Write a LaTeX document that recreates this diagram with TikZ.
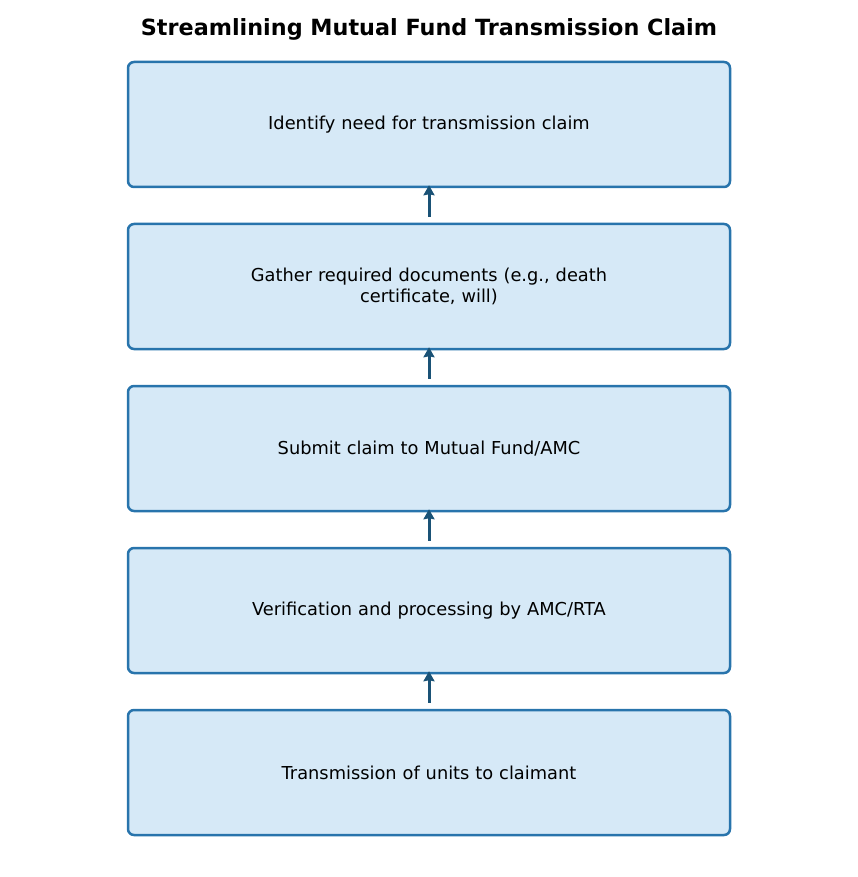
\documentclass[tikz,border=0pt]{standalone}
\usepackage{fontspec}
\setmainfont{DejaVu Sans}
\usetikzlibrary{arrows.meta}
\definecolor{boxfill}{HTML}{D6E9F7}
\definecolor{boxedge}{HTML}{2874AC}
\definecolor{arrowc}{HTML}{1A5276}
\tikzset{
  stepbox/.style={draw=boxedge, fill=boxfill, line width=2.5pt, rounded corners=6pt,
    minimum width=602pt, minimum height=125pt, align=center, inner sep=0pt,
    font=\fontsize{17.8}{21}\selectfont, text width=560pt},
  flow/.style={draw=arrowc, line width=3pt, -{Stealth[length=10pt,width=11pt,inset=1pt]}}
}
\begin{document}
\begin{tikzpicture}[x=1pt,y=-1pt]
\useasboundingbox (0,0) rectangle (858,877);
\node[font=\bfseries\fontsize{22.3}{26}\selectfont] (title) at (429,29.5) {Streamlining Mutual Fund Transmission Claim};
\node[stepbox] (b1) at (429,124.5) {Identify need for transmission claim};
\node[stepbox] (b2) at (429,286.5) {Gather required documents (e.g., death\\certificate, will)};
\node[stepbox] (b3) at (429,448.5) {Submit claim to Mutual Fund/AMC};
\node[stepbox] (b4) at (429,610.5) {Verification and processing by AMC/RTA};
\node[stepbox] (b5) at (429,772.5) {Transmission of units to claimant};
\draw[flow] ([yshift=6pt]b2.north) -- ([yshift=3pt]b1.south);
\draw[flow] ([yshift=6pt]b3.north) -- ([yshift=3pt]b2.south);
\draw[flow] ([yshift=6pt]b4.north) -- ([yshift=3pt]b3.south);
\draw[flow] ([yshift=6pt]b5.north) -- ([yshift=3pt]b4.south);
\end{tikzpicture}
\end{document}
